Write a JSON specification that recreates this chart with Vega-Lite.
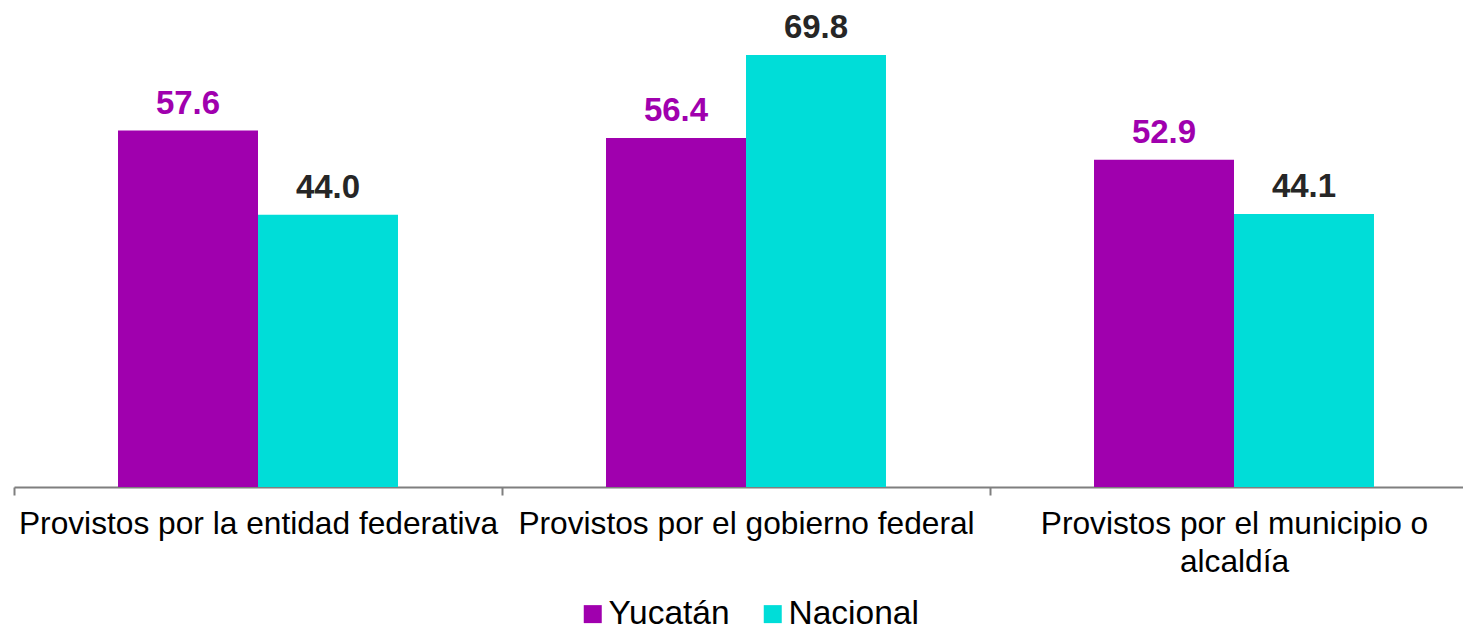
{
  "$schema": "https://vega.github.io/schema/vega-lite/v6.json",
  "width": 1449,
  "height": 487,
  "autosize": {"type": "none"},
  "padding": {"left": 14, "top": 0, "right": 0, "bottom": 145},
  "config": {"view": {"stroke": null}, "font": "Liberation Sans"},
  "data": {
    "values": [
      {"categoria": "Provistos por la entidad federativa", "serie": "Yucatán", "valor": 57.6},
      {"categoria": "Provistos por la entidad federativa", "serie": "Nacional", "valor": 44.0},
      {"categoria": "Provistos por el gobierno federal", "serie": "Yucatán", "valor": 56.4},
      {"categoria": "Provistos por el gobierno federal", "serie": "Nacional", "valor": 69.8},
      {"categoria": "Provistos por el municipio o alcaldía", "serie": "Yucatán", "valor": 52.9},
      {"categoria": "Provistos por el municipio o alcaldía", "serie": "Nacional", "valor": 44.1}
    ]
  },
  "encoding": {
    "x": {
      "field": "categoria",
      "type": "nominal",
      "sort": null,
      "scale": {"range": [0, 1464], "paddingInner": 0, "paddingOuter": 0},
      "axis": {
        "title": null,
        "domainColor": "#7f7f7f",
        "domainWidth": 2,
        "tickColor": "#7f7f7f",
        "tickWidth": 2,
        "tickSize": 8,
        "tickBand": "extent",
        "labelFontSize": 31.7,
        "labelColor": "#000000",
        "labelAngle": 0,
        "labelPadding": 13,
        "labelLimit": 0,
        "labelLineHeight": 38,
        "labelExpr": "datum.value == 'Provistos por el municipio o alcaldía' ? ['Provistos por el municipio o', 'alcaldía'] : datum.value"
      }
    },
    "xOffset": {
      "field": "serie",
      "sort": ["Yucatán", "Nacional"],
      "scale": {"paddingOuter": 0.743, "paddingInner": 0}
    },
    "y": {
      "field": "valor",
      "type": "quantitative",
      "scale": {"domain": [0, 78.7]},
      "axis": null
    }
  },
  "layer": [
    {
      "mark": {"type": "bar"},
      "encoding": {
        "color": {
          "field": "serie",
          "type": "nominal",
          "sort": ["Yucatán", "Nacional"],
          "scale": {"domain": ["Yucatán", "Nacional"], "range": ["#A000AE", "#00DDD8"]},
          "legend": {
            "title": null,
            "orient": "none",
            "legendX": 562,
            "legendY": 597,
            "direction": "horizontal",
            "symbolType": "square",
            "symbolSize": 324,
            "symbolStrokeWidth": 0,
            "labelFontSize": 33.5,
            "labelColor": "#000000",
            "labelOffset": -1,
            "columnPadding": 26,
            "padding": 0
          }
        }
      }
    },
    {
      "mark": {"type": "text", "baseline": "alphabetic", "dy": -17, "fontSize": 33, "fontWeight": "bold"},
      "encoding": {
        "text": {"field": "valor", "type": "quantitative", "format": ".1f"},
        "color": {"condition": {"test": "datum.serie == 'Yucatán'", "value": "#A000AE"}, "value": "#262626"}
      }
    }
  ]
}
